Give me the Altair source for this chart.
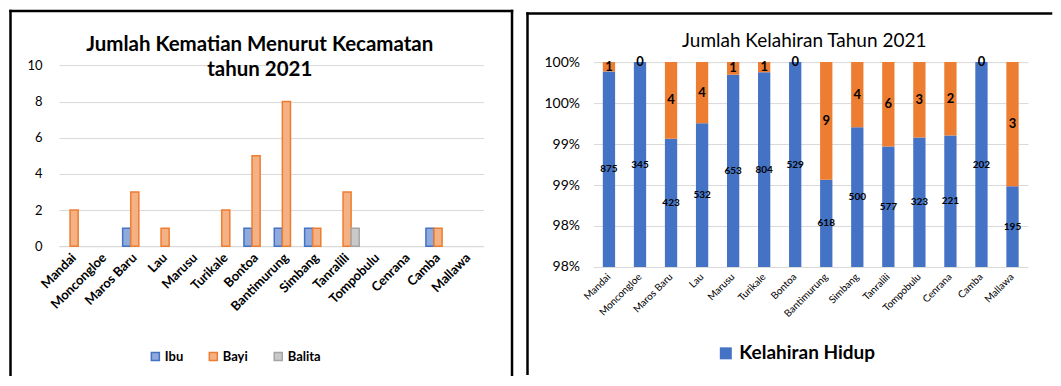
import altair as alt
import pandas as pd

# ---------------- data ----------------
kecamatan = ["Mandai", "Moncongloe", "Maros Baru", "Lau", "Marusu", "Turikale", "Bontoa",
             "Bantimurung", "Simbang", "Tanralili", "Tompobulu", "Cenrana", "Camba", "Mallawa"]
ibu = [0, 0, 1, 0, 0, 0, 1, 1, 1, 0, 0, 0, 1, 0]
bayi = [2, 0, 3, 1, 0, 2, 5, 8, 1, 3, 0, 0, 1, 0]
balita = [0, 0, 0, 0, 0, 0, 0, 0, 0, 1, 0, 0, 0, 0]
kategori = ["Ibu", "Bayi", "Balita"]

kelahiran_hidup = [875, 345, 423, 532, 653, 804, 529, 618, 500, 577, 323, 221, 202, 195]
lahir_mati = [1, 0, 4, 4, 1, 1, 0, 9, 4, 6, 3, 2, 0, 3]

y_ticks_left = [0, 2, 4, 6, 8, 10]
y_ticks_right = [0.975, 0.98, 0.985, 0.99, 0.995, 1.0]

FONT = "Lato"
BLUE, ORANGE, GREY = "#4472C4", "#ED7D31", "#A5A5A5"
FILLS = ["#8FAADC", "#F4B183", "#C9C9C9"]
GRID = "#D9D9D9"

df1 = pd.DataFrame({"kecamatan": kecamatan, "Ibu": ibu, "Bayi": bayi, "Balita": balita})
df2 = pd.DataFrame({"kecamatan": kecamatan, "hidup": kelahiran_hidup, "mati": lahir_mati})
one = pd.DataFrame({"k": [0]})


def frame_rule(**enc):
    return alt.Chart(one).mark_rule(color="#000", strokeWidth=2.5, strokeCap="square").encode(**enc)


# ---------------- left panel ----------------
# plot area shares its top with the right panel; the 0-10 axis sits 3.3px lower
W1, H1 = 425, 184.3
Y1_MAX = 10 * 184.3 / 181
x1 = alt.X("kecamatan:N", sort=kecamatan,
           scale=alt.Scale(domain=kecamatan, paddingInner=0.2, paddingOuter=0.1),
           axis=alt.Axis(title=None, labelAngle=-45, labelAlign="right", labelBaseline="middle",
                         labelFont=FONT, labelFontSize=13, labelFontWeight="bold", labelColor="#000",
                         labelPadding=9, ticks=False, tickSize=0, domainColor=GRID, grid=False))
leg1 = dict(title=None, orient="none", legendX=90, legendY=288, direction="horizontal",
            symbolType="square", symbolSize=64, symbolStrokeWidth=1.5,
            labelFont=FONT, labelFontSize=13, labelFontWeight="bold", labelColor="#000",
            columnPadding=22, labelOffset=3)

bars1 = alt.Chart(df1).transform_fold(kategori, as_=["kategori", "jumlah"]).transform_filter(
    "datum.jumlah > 0").mark_bar(strokeWidth=1.5).encode(
    x=x1,
    xOffset=alt.XOffset("kategori:N", sort=kategori,
                        scale=alt.Scale(domain=kategori, paddingInner=0, paddingOuter=0)),
    y=alt.Y("jumlah:Q", scale=alt.Scale(domain=[0, Y1_MAX], nice=False),
            axis=alt.Axis(values=y_ticks_left, title=None, domain=False, ticks=False, tickSize=0,
                          labelPadding=17, gridColor=GRID, labelFont=FONT, labelFontSize=13,
                          labelColor="#000")),
    fill=alt.Fill("kategori:N", scale=alt.Scale(domain=kategori, range=FILLS), legend=alt.Legend(**leg1)),
    stroke=alt.Stroke("kategori:N", scale=alt.Scale(domain=kategori, range=[BLUE, ORANGE, GREY]),
                      legend=alt.Legend(**leg1)),
)

t1a = alt.Chart(one).mark_text(font=FONT, fontSize=20.5, fontWeight="bold", align="center",
                               baseline="alphabetic", color="#000").encode(
    x=alt.value(201), y=alt.value(-10.7), text=alt.value("Jumlah Kematian Menurut Kecamatan"))
t1b = alt.Chart(one).mark_text(font=FONT, fontSize=20.5, fontWeight="bold", align="center",
                               baseline="alphabetic", color="#000").encode(
    x=alt.value(201), y=alt.value(14.3), text=alt.value("tahun 2021"))

left = alt.layer(
    frame_rule(x=alt.value(-48.5), y=alt.value(-51.2), y2=alt.value(313)),
    frame_rule(x=alt.value(-48.5), x2=alt.value(453.5), y=alt.value(-51.2)),
    frame_rule(x=alt.value(453.5), y=alt.value(-51.2), y2=alt.value(313)),
    bars1, t1a, t1b,
).properties(width=W1, height=H1)

# ---------------- right panel ----------------
W2, H2 = 435, 205
x2 = alt.X("kecamatan:N", sort=kecamatan,
           scale=alt.Scale(domain=kecamatan, paddingInner=0.604, paddingOuter=0.302),
           axis=alt.Axis(title=None, labelAngle=-45, labelAlign="right", labelBaseline="middle",
                         labelFont=FONT, labelFontSize=10, labelColor="#000", labelPadding=8,
                         ticks=False, tickSize=0, domain=False, grid=False))
ysc = alt.Scale(domain=[0.975, 1.0])
yax = alt.Axis(values=y_ticks_right, labelExpr="round(datum.value*100 + 0.000001) + '%'",
               title=None, domain=False, ticks=False, tickSize=0, labelPadding=14,
               gridColor=GRID, labelFont=FONT, labelFontSize=14, labelColor="#000")

base2 = alt.Chart(df2).transform_calculate(
    p="datum.hidup / (datum.hidup + datum.mati)",
    nol="0", satu="1", series="'Kelahiran Hidup'",
    yb="(0.975 + datum.p) / 2", yo="(datum.p + 1) / 2")

blue = base2.mark_bar(clip=True).encode(
    x=x2,
    y=alt.Y("p:Q", scale=ysc, axis=yax, stack=None),
    y2=alt.Y2("nol:Q"),
    color=alt.Color("series:N",
                    scale=alt.Scale(domain=["Kelahiran Hidup", "Lahir Mati"], range=[BLUE, ORANGE]),
                    legend=alt.Legend(values=["Kelahiran Hidup"], title=None, orient="none",
                                      legendX=123, legendY=282, symbolType="square", symbolSize=144,
                                      labelFont=FONT, labelFontSize=19, labelFontWeight="bold",
                                      labelColor="#000", labelOffset=4)),
)
orange = base2.mark_bar(clip=True, color=ORANGE).encode(
    x=x2, y=alt.Y("p:Q", scale=ysc, axis=yax, stack=None), y2=alt.Y2("satu:Q"))
lab_b = base2.mark_text(font=FONT, fontSize=10, fontWeight="bold", color="#000", baseline="middle").encode(
    x=x2, y=alt.Y("yb:Q", scale=ysc, axis=yax), text="hidup:Q")
lab_o = base2.mark_text(font=FONT, fontSize=13, fontWeight="bold", color="#000", baseline="middle").encode(
    x=x2, y=alt.Y("yo:Q", scale=ysc, axis=yax), text="mati:Q")

t2 = alt.Chart(one).mark_text(font=FONT, fontSize=19, align="center", baseline="alphabetic",
                              color="#000").encode(
    x=alt.value(211), y=alt.value(-14.7), text=alt.value("Jumlah Kelahiran Tahun 2021"))

right = alt.layer(
    frame_rule(x=alt.value(-66), y=alt.value(-48.7), y2=alt.value(312)),
    frame_rule(x=alt.value(-66), x2=alt.value(458), y=alt.value(-48.7)),
    blue, orange, lab_b, lab_o, t2,
).properties(width=W2, height=H2)

chart = alt.hconcat(left, right, spacing=11).resolve_scale(
    x="independent", y="independent", color="independent", fill="independent",
    stroke="independent", xOffset="independent",
).properties(padding={"left": 0, "top": 1, "right": 0, "bottom": 0}).configure_view(strokeWidth=0)

chart.save("out.html", embed_options={"renderer": "svg", "actions": False})
